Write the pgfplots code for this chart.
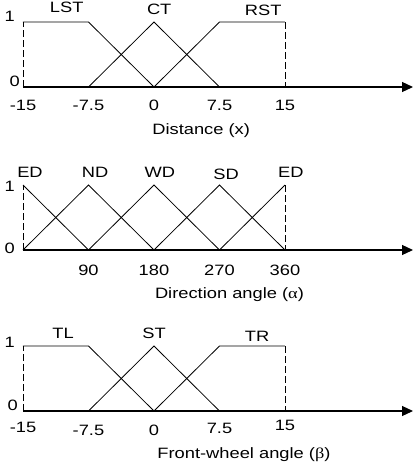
\documentclass[border=0pt]{standalone}
\usepackage{fontspec}
\setmainfont[FakeStretch=1.22]{Liberation Sans}
\newfontfamily\greekfont[FakeStretch=1.22]{Liberation Serif}
\usepackage{pgfplots}
\pgfplotsset{compat=1.18}
\usetikzlibrary{arrows.meta}
\pgfplotsset{
  mf/.style={
    scale only axis, width=390bp, height=65bp, ymin=0, ymax=1,
    axis x line=bottom, axis y line=none, clip=false,
    x axis line style={-{Triangle[length=11bp,width=10bp]}, line width=1.2bp},
    major tick length=0pt, enlargelimits=false,
    xticklabel style={anchor=base, yshift=-23bp},
  },
  ml/.style={black, line width=0.8bp, no markers, solid},
  dsh/.style={black, line width=0.8bp, no markers, dash pattern=on 7bp off 3bp},
}
\begin{document}
\fontsize{15bp}{17bp}\selectfont
\begin{tikzpicture}
% Panel 1: Distance
\begin{axis}[mf, at={(0,0)}, anchor=south west, xmin=-15, xmax=29.66,
  xtick={-15,-7.5,0,7.5,15}, xticklabels={-15,-7.5,0,7.5,15}]
\addplot[ml] coordinates {(-15,1) (-7.5,1) (0,0)};
\addplot[dsh] coordinates {(-15,0) (-15,1)};
\addplot[ml] coordinates {(-7.5,0) (0,1) (7.5,0)};
\addplot[ml] coordinates {(0,0) (7.5,1) (15,1)};
\addplot[dsh] coordinates {(15,1) (15,0)};
\node[anchor=base] at (axis cs:-10,1) [yshift=9bp] {LST};
\node[anchor=base] at (axis cs:0.6,1) [yshift=7bp] {CT};
\node[anchor=base] at (axis cs:12.5,1) [yshift=6bp] {RST};
\node[anchor=base east, inner sep=0pt] at (axis cs:-15,1) [xshift=-8bp] {1};
\node[anchor=base east, inner sep=0pt] at (axis cs:-15,0) [xshift=-3bp, yshift=1bp] {0};
\node[anchor=base] at (axis cs:5.4,0) [yshift=-47bp] {Distance (x)};
\end{axis}
% Panel 2: Direction angle
\begin{axis}[mf, at={(0,-163bp)}, anchor=south west, xmin=0, xmax=535.9,
  xtick={90,180,270,360}, xticklabels={90,180,270,360},
  xticklabel style={yshift=-2bp}]
\addplot[ml] coordinates {(0,1) (90,0)};
\addplot[dsh] coordinates {(0,0) (0,1)};
\addplot[ml] coordinates {(0,0) (90,1) (180,0)};
\addplot[ml] coordinates {(90,0) (180,1) (270,0)};
\addplot[ml] coordinates {(180,0) (270,1) (360,0)};
\addplot[ml] coordinates {(270,0) (360,1)};
\addplot[dsh] coordinates {(360,1) (360,0)};
\node[anchor=base] at (axis cs:9.6,1) [yshift=8bp] {ED};
\node[anchor=base] at (axis cs:99,1) [yshift=8bp] {ND};
\node[anchor=base] at (axis cs:188,1) [yshift=8bp] {WD};
\node[anchor=base] at (axis cs:279,1) [yshift=6bp] {SD};
\node[anchor=base] at (axis cs:368,1) [yshift=8bp] {ED};
\node[anchor=base east, inner sep=0pt] at (axis cs:0,1) [xshift=-8bp, yshift=-6bp] {1};
\node[anchor=base east, inner sep=0pt] at (axis cs:0,0) [xshift=-8bp, yshift=-3bp] {0};
\node[anchor=base] at (axis cs:283.7,0) [yshift=-48bp] {Direction angle ({\greekfont α})};
\end{axis}
% Panel 3: Front-wheel angle
\begin{axis}[mf, at={(0,-324bp)}, anchor=south west, xmin=-15, xmax=29.66,
  xtick={-15,-7.5,0,7.5,15},
  xticklabels={\raisebox{3bp}{-15},-7.5,0,\raisebox{2bp}{7.5},\raisebox{5bp}{15}},
  xticklabel style={yshift=-1bp}]
\addplot[ml] coordinates {(-15,1) (-7.5,1) (0,0)};
\addplot[dsh] coordinates {(-15,0) (-15,1)};
\addplot[ml] coordinates {(-7.5,0) (0,1) (7.5,0)};
\addplot[ml] coordinates {(0,0) (7.5,1) (15,1)};
\addplot[dsh] coordinates {(15,1) (15,0)};
\node[anchor=base] at (axis cs:-10.4,1) [yshift=8bp] {TL};
\node[anchor=base] at (axis cs:0,1) [yshift=8bp] {ST};
\node[anchor=base] at (axis cs:11.8,1) [yshift=5bp] {TR};
\node[anchor=base east, inner sep=0pt] at (axis cs:-15,1) [xshift=-8bp, yshift=-1bp] {1};
\node[anchor=base east, inner sep=0pt] at (axis cs:-15,0) [xshift=-5bp, yshift=1bp] {0};
\node[anchor=base] at (axis cs:10.3,0) [yshift=-47bp] {Front-wheel angle ({\greekfont β})};
\end{axis}
\pgfresetboundingbox
\useasboundingbox (-23bp,87bp) rectangle (391bp,-385bp);
\end{tikzpicture}
\end{document}
